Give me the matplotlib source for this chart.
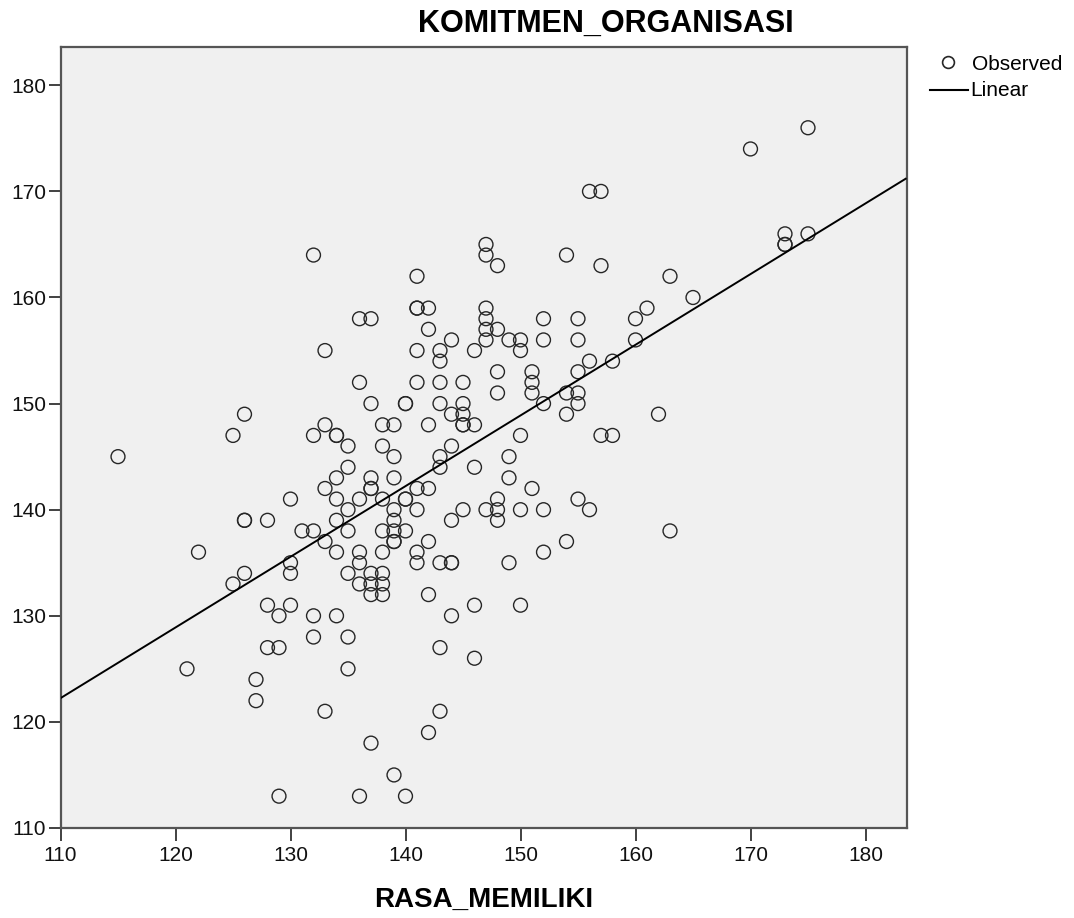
import numpy as np
import matplotlib
matplotlib.use("Agg")
import matplotlib.pyplot as plt
from matplotlib.lines import Line2D

plt.rcParams['font.family'] = ['Liberation Sans', 'DejaVu Sans']

# RASA_MEMILIKI (x) and KOMITMEN_ORGANISASI (y), observed cases
rasa_memiliki = [
    115, 121, 122, 125, 125, 126, 126, 126, 126, 127, 127, 128, 128, 128, 129, 129, 129,
    130, 130, 130, 130, 131,
    132, 132, 132, 132, 132,
    133, 133, 133, 133, 133,
    134, 134, 134, 134, 134, 134, 134,
    135, 135, 135, 135, 135, 135, 135,
    136, 136, 136, 136, 136, 136, 136,
    137, 137, 137, 137, 137, 137, 137, 137, 137,
    138, 138, 138, 138, 138, 138, 138, 138,
    139, 139, 139, 139, 139, 139, 139, 139, 139,
    140, 140, 140, 140, 140, 140,
    141, 141, 141, 141, 141, 141, 141, 141, 141,
    142, 142, 142, 142, 142, 142, 142,
    143, 143, 143, 143, 143, 143, 143, 143, 143,
    144, 144, 144, 144, 144, 144, 144,
    145, 145, 145, 145, 145, 145,
    146, 146, 146, 146, 146,
    147, 147, 147, 147, 147, 147, 147,
    148, 148, 148, 148, 148, 148, 148,
    149, 149, 149, 149,
    150, 150, 150, 150, 150,
    151, 151, 151, 151,
    152, 152, 152, 152, 152,
    154, 154, 154, 154,
    155, 155, 155, 155, 155, 155,
    156, 156, 156,
    157, 157, 157,
    158, 158,
    160, 160, 161, 162, 163, 163, 165, 170,
    173, 173, 173, 175, 175,
]
komitmen_organisasi = [
    145, 125, 136, 147, 133, 149, 139, 139, 134, 124, 122, 139, 131, 127, 130, 127, 113,
    141, 135, 134, 131, 138,
    164, 147, 138, 130, 128,
    155, 148, 142, 137, 121,
    147, 147, 143, 141, 139, 136, 130,
    146, 144, 140, 138, 134, 128, 125,
    158, 152, 141, 136, 135, 133, 113,
    158, 150, 143, 142, 142, 134, 133, 132, 118,
    148, 146, 141, 138, 136, 134, 133, 132,
    148, 145, 143, 140, 139, 138, 137, 137, 115,
    150, 150, 141, 141, 138, 113,
    162, 159, 159, 155, 152, 142, 140, 136, 135,
    159, 157, 148, 142, 137, 132, 119,
    155, 154, 152, 150, 145, 144, 135, 127, 121,
    156, 149, 146, 139, 135, 135, 130,
    152, 150, 149, 148, 148, 140,
    155, 148, 144, 131, 126,
    165, 164, 159, 158, 157, 156, 140,
    163, 157, 153, 151, 141, 140, 139,
    156, 145, 143, 135,
    156, 155, 147, 140, 131,
    153, 152, 151, 142,
    158, 156, 150, 140, 136,
    164, 151, 149, 137,
    158, 156, 153, 151, 150, 141,
    170, 154, 140,
    170, 163, 147,
    154, 147,
    158, 156, 159, 149, 162, 138, 160, 174,
    166, 165, 165, 176, 166,
]

x_ticks = [110, 120, 130, 140, 150, 160, 170, 180]
y_ticks = [110, 120, 130, 140, 150, 160, 170, 180]
title_text = "KOMITMEN_ORGANISASI"
x_label = "RASA_MEMILIKI"
legend_labels = ["Observed", "Linear"]

x = np.array(rasa_memiliki, dtype=float)
y = np.array(komitmen_organisasi, dtype=float)

W, H = 1074, 918
fig = plt.figure(figsize=(W / 100, H / 100), dpi=100)
L, R, T, B = 60.5, 906.5, 47, 828
ax = fig.add_axes([L / W, 1 - B / H, (R - L) / W, (B - T) / H])
ax.set_facecolor('#F0F0F0')

ax.scatter(x, y, s=100, facecolors='none', edgecolors='#262626', linewidths=1.0, zorder=3)

x_max = 110 + (R - L) / 11.5
y_max = 110 + (B - T) / 10.61
slope, intercept = np.polyfit(x, y, 1)
xl = np.array([110, x_max])
ax.plot(xl, intercept + slope * xl, color='black', lw=1.4, zorder=4, solid_capstyle='butt')

ax.set_xlim(110, x_max)
ax.set_ylim(110, y_max)
ax.set_xticks(x_ticks)
ax.set_yticks(y_ticks)
ax.tick_params(axis='both', direction='out', length=9, width=1.3, colors='#333333',
               labelsize=15, labelcolor='#111111')
ax.tick_params(axis='x', pad=4)
ax.tick_params(axis='y', pad=1.5)
for sp in ax.spines.values():
    sp.set_color('#555555')
    sp.set_linewidth(1.6)

fig.text(605.5 / W, 1 - 23.5 / H, title_text, ha='center', va='center',
         fontsize=22, fontweight='bold')
fig.text(484 / W, 1 - 900 / H, x_label, ha='center', va='center',
         fontsize=20, fontweight='bold')

# legend (outside, top right)
fig.add_artist(Line2D([948 / W], [1 - 62 / H], transform=fig.transFigure, marker='o',
                      linestyle='none', markerfacecolor='none', markeredgecolor='#262626',
                      markersize=8.5, markeredgewidth=1.2))
fig.add_artist(Line2D([930 / W, 968 / W], [1 - 90 / H, 1 - 90 / H],
                      transform=fig.transFigure, color='black', lw=1.5))
fig.text(972 / W, 1 - 64 / H, legend_labels[0], ha='left', va='center', fontsize=15)
fig.text(970 / W, 1 - 90 / H, legend_labels[1], ha='left', va='center', fontsize=15)

fig.savefig('out.png', dpi=100)
